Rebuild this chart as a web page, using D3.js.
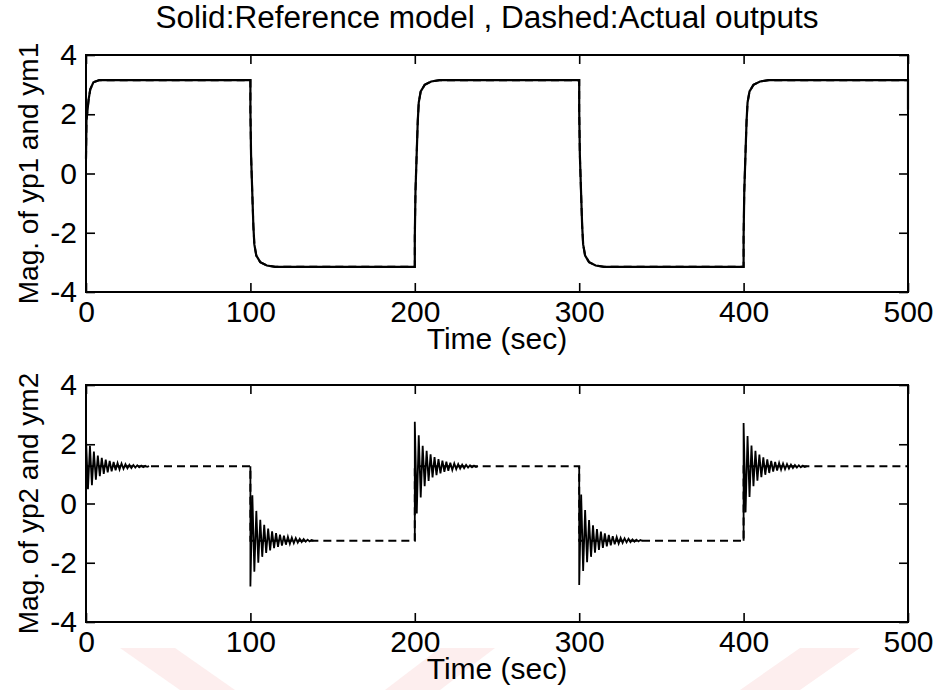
<!DOCTYPE html>
<html>
<head>
<meta charset="utf-8">
<script src="https://cdn.jsdelivr.net/npm/d3@7"></script>
<style>
  html, body { margin: 0; padding: 0; background: #fff; }
  svg text { font-family: "Liberation Sans", Arial, sans-serif; fill: #000; }
</style>
</head>
<body>
<svg id="chart" width="942" height="690"></svg>
<script>
// tick labels
var timeTicks = [0, 100, 200, 300, 400, 500];
var magTicks = [-4, -2, 0, 2, 4];

// square-wave switching instants and plateau per segment
var switchTimes = [0, 100, 200, 300, 400, 500];
var levels1 = [3.15, -3.15, 3.15, -3.15, 3.15];
var levels2 = [1.26, -1.26, 1.26, -1.26, 1.26];

// top panel: first rise from rest [t, value]
var start1 = [[0, 0.5], [0.3, 1.8], [1.6, 2.5], [2.6, 2.84], [4.5, 3.08], [8, 3.15]];
// later steps: seconds after the switch and fraction of the swing covered
var stepT1 = [0, 0.4, 1.2, 1.8, 2.4, 3.6, 6, 10, 15];
var stepF1 = [0.16, 0.4, 0.62, 0.78, 0.88, 0.94, 0.975, 0.993, 1];
var endValue1 = 2.15;

// bottom panel: alternating peaks after each switch, one every 1.2 s
var oscStep = 1.2;
var osc2 = [
  [2.2, 0.48, 1.95, 0.62, 1.75, 0.8, 1.62, 0.92, 1.54, 1.0, 1.48, 1.05, 1.44, 1.09, 1.4, 1.12, 1.37, 1.15, 1.35, 1.17, 1.33, 1.19, 1.31, 1.2, 1.3, 1.21, 1.29, 1.22, 1.28, 1.23, 1.27, 1.24],
  [-2.8, 0.28, -2.3, -0.25, -2.0, -0.55, -1.8, -0.72, -1.67, -0.85, -1.58, -0.94, -1.51, -1.0, -1.46, -1.05, -1.42, -1.09, -1.39, -1.12, -1.36, -1.15, -1.34, -1.17, -1.32, -1.19, -1.3, -1.2, -1.29, -1.22, -1.28, -1.23],
  [2.76, -0.34, 2.3, 0.2, 1.95, 0.58, 1.78, 0.76, 1.66, 0.88, 1.57, 0.96, 1.5, 1.02, 1.45, 1.07, 1.41, 1.1, 1.38, 1.13, 1.35, 1.16, 1.33, 1.18, 1.31, 1.19, 1.3, 1.21, 1.29, 1.22, 1.28, 1.23],
  [-2.75, 0.3, -2.28, -0.22, -1.98, -0.56, -1.8, -0.74, -1.66, -0.86, -1.57, -0.95, -1.5, -1.01, -1.45, -1.06, -1.41, -1.1, -1.38, -1.13, -1.35, -1.16, -1.33, -1.18, -1.31, -1.19, -1.3, -1.21, -1.29, -1.22, -1.28, -1.23],
  [2.72, -0.3, 2.28, 0.22, 1.96, 0.58, 1.78, 0.77, 1.65, 0.89, 1.56, 0.97, 1.49, 1.03, 1.44, 1.08, 1.4, 1.11, 1.37, 1.14, 1.35, 1.16, 1.33, 1.18, 1.31, 1.2, 1.3, 1.21, 1.29, 1.22, 1.28, 1.23]
];
var endValue2 = -0.6;

(function() {
  var svg = d3.select("#chart");

  // faint watermark stripes along the bottom edge
  var marks = [
    [[120, 648], [175, 648], [235, 690], [180, 690]],
    [[440, 648], [495, 648], [440, 690], [385, 690]],
    [[800, 648], [860, 648], [800, 690], [740, 690]]
  ];
  svg.selectAll("polygon.wm")
    .data(marks)
  .enter().append("polygon")
    .attr("class", "wm")
    .attr("points", function(d) { return d.join(" "); })
    .style("fill", "#fdeeee");

  var x = d3.scaleLinear().domain([0, 500]).range([86, 908]);

  var panels = [
    { top: 55, bottom: 292, label: "Mag. of yp1 and ym1" },
    { top: 385, bottom: 622, label: "Mag. of yp2 and ym2" }
  ];

  panels.forEach(function(p) {
    p.y = d3.scaleLinear().domain([-4, 4]).range([p.bottom, p.top]);
    var g = svg.append("g");
    var fmt = function(d) { return String(d); };

    g.append("g")
      .attr("transform", "translate(0," + p.bottom + ")")
      .call(d3.axisBottom(x).tickValues(timeTicks).tickSize(-9).tickPadding(9).tickFormat(fmt));
    g.append("g")
      .attr("transform", "translate(0," + p.top + ")")
      .call(d3.axisTop(x).tickValues(timeTicks).tickSize(-9).tickFormat(""));
    g.append("g")
      .attr("transform", "translate(" + x(0) + ",0)")
      .call(d3.axisLeft(p.y).tickValues(magTicks).tickSize(-9).tickPadding(9).tickFormat(fmt));
    g.append("g")
      .attr("transform", "translate(" + x(500) + ",0)")
      .call(d3.axisRight(p.y).tickValues(magTicks).tickSize(-9).tickFormat(""));

    g.selectAll(".domain").remove();
    g.selectAll(".tick line").style("stroke", "#000").style("stroke-width", 1.6);
    g.selectAll(".tick text").style("font-size", "30px").style("font-family", "'Liberation Sans', Arial, sans-serif");

    g.append("rect")
      .attr("x", x(0)).attr("y", p.top)
      .attr("width", x(500) - x(0)).attr("height", p.bottom - p.top)
      .style("fill", "none").style("stroke", "#000").style("stroke-width", 2);

    g.append("text")
      .attr("x", (x(0) + x(500)) / 2)
      .attr("y", p.bottom + 57)
      .attr("text-anchor", "middle")
      .style("font-size", "30px")
      .text("Time (sec)");

    g.append("text")
      .attr("transform", "translate(38," + (p.top + p.bottom) / 2 + ") rotate(-90)")
      .attr("text-anchor", "middle")
      .style("font-size", "28px")
      .text(p.label);
  });

  svg.append("text")
    .attr("x", 487)
    .attr("y", 28)
    .attr("text-anchor", "middle")
    .attr("textLength", 663)
    .attr("lengthAdjust", "spacingAndGlyphs")
    .style("font-size", "31px")
    .text("Solid:Reference model , Dashed:Actual outputs");

  // top panel series
  var ym1 = start1.slice();
  for (var i = 1; i < levels1.length; i++) {
    var s = switchTimes[i], from = levels1[i - 1], to = levels1[i];
    ym1.push([s, from]);
    stepT1.forEach(function(t, k) {
      ym1.push([s + t, from + (to - from) * stepF1[k]]);
    });
  }
  ym1.push([500, levels1[levels1.length - 1]]);
  ym1.push([500, endValue1]);

  // bottom panel: dashed reference steps, solid transients
  var ym2 = [];
  var yp2 = [];
  levels2.forEach(function(v, i) {
    ym2.push([switchTimes[i], v]);
    ym2.push([switchTimes[i + 1], v]);
    var seg = [];
    if (i > 0) seg.push([switchTimes[i], levels2[i - 1]]);
    osc2[i].forEach(function(o, k) {
      seg.push([switchTimes[i] + k * oscStep, o]);
    });
    seg.push([switchTimes[i] + osc2[i].length * oscStep, v]);
    yp2.push(seg);
  });
  yp2.push([[500, levels2[levels2.length - 1]], [500, endValue2]]);

  var line1 = d3.line()
    .x(function(d) { return x(d[0]); })
    .y(function(d) { return panels[0].y(d[1]); });
  var line2 = d3.line()
    .x(function(d) { return x(d[0]); })
    .y(function(d) { return panels[1].y(d[1]); });

  svg.append("path")
    .attr("d", line1(ym1))
    .style("fill", "none").style("stroke", "#000").style("stroke-width", 2.2);
  svg.append("path")
    .attr("d", line1(ym1))
    .style("fill", "none").style("stroke", "#000").style("stroke-width", 2)
    .style("stroke-dasharray", "8,5");

  svg.append("path")
    .attr("d", line2(ym2))
    .style("fill", "none").style("stroke", "#000").style("stroke-width", 2)
    .style("stroke-dasharray", "8,5");
  svg.selectAll("path.yp2")
    .data(yp2)
  .enter().append("path")
    .attr("class", "yp2")
    .attr("d", line2)
    .style("fill", "none").style("stroke", "#000").style("stroke-width", 1.8);
})();
</script>
</body>
</html>
